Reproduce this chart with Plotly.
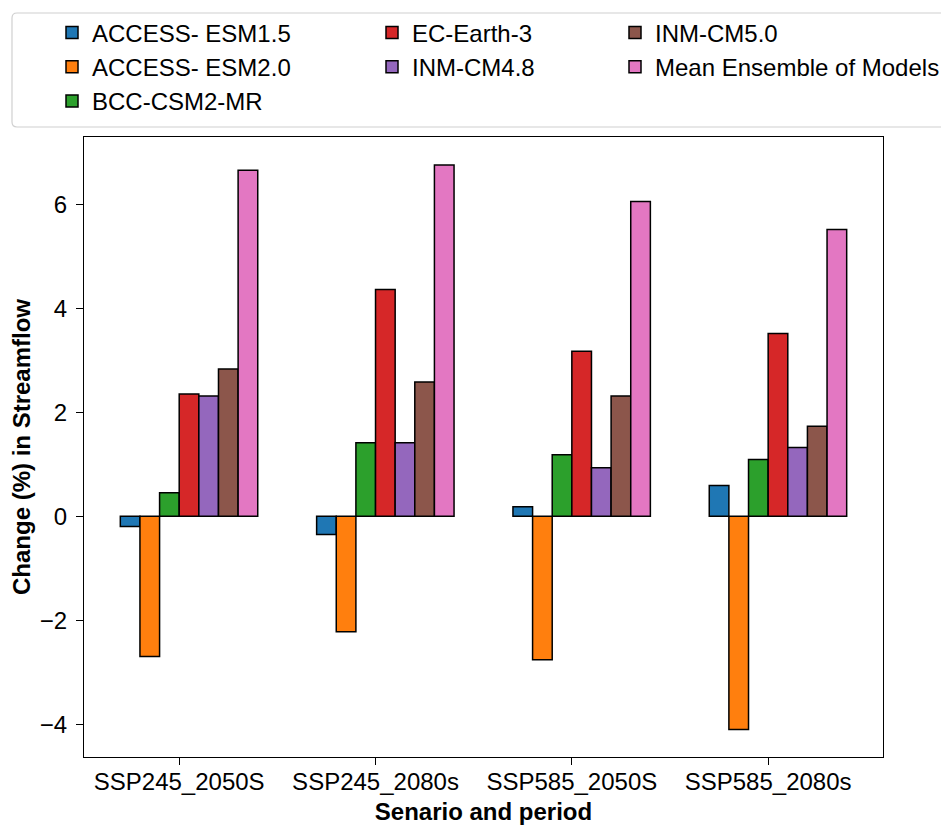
import plotly.graph_objects as go

categories = ["SSP245_2050S", "SSP245_2080s", "SSP585_2050S", "SSP585_2080s"]
models = ["ACCESS- ESM1.5", "ACCESS- ESM2.0", "BCC-CSM2-MR", "EC-Earth-3",
          "INM-CM4.8", "INM-CM5.0", "Mean Ensemble of Models"]

access_esm15 = [-0.20, -0.35, 0.18, 0.59]
access_esm20 = [-2.70, -2.22, -2.76, -4.10]
bcc_csm2_mr = [0.45, 1.41, 1.18, 1.09]
ec_earth3 = [2.35, 4.36, 3.17, 3.51]
inm_cm48 = [2.31, 1.41, 0.93, 1.32]
inm_cm50 = [2.83, 2.58, 2.31, 1.73]
mean_ensemble = [6.65, 6.75, 6.05, 5.51]

series = [access_esm15, access_esm20, bcc_csm2_mr, ec_earth3, inm_cm48, inm_cm50, mean_ensemble]
colors = ["#1f77b4", "#ff7f0e", "#2ca02c", "#d62728", "#9467bd", "#8c564b", "#e377c2"]
legend_ids = ["legend", "legend", "legend", "legend2", "legend2", "legend3", "legend3"]

FONT = "Liberation Sans, Arial, sans-serif"
bar_w = 0.1
x_idx = list(range(len(categories)))

fig = go.Figure()
for i, (name, vals, col, lg) in enumerate(zip(models, series, colors, legend_ids)):
    fig.add_trace(go.Bar(
        x=x_idx, y=vals, name=name,
        width=bar_w, offset=-0.3 + i * bar_w,
        marker=dict(color=col, line=dict(color="black", width=1.5)),
        legend=lg,
    ))

# page body has an 8px margin; target plot area in window pixels: x 84..883, y 137..757
OFF = 8
W, H = 949 - OFF, 825 - OFF
L, T = 84 - OFF, 137 - OFF
R, B = 949 - 883, 825 - 757
pw, ph = W - L - R, H - T - B

def px(xw):
    return (xw - OFF - L) / pw

def py(yw):
    return (H - B - (yw - OFF)) / ph

def rounded_frame(x0, y0, x1, y1, r):
    pts = [
        f"M {px(x0 + r)},{py(y0)}",
        f"L {px(x1 - r)},{py(y0)}",
        f"Q {px(x1)},{py(y0)} {px(x1)},{py(y0 + r)}",
        f"L {px(x1)},{py(y1 - r)}",
        f"Q {px(x1)},{py(y1)} {px(x1 - r)},{py(y1)}",
        f"L {px(x0 + r)},{py(y1)}",
        f"Q {px(x0)},{py(y1)} {px(x0)},{py(y1 - r)}",
        f"L {px(x0)},{py(y0 + r)}",
        f"Q {px(x0)},{py(y0)} {px(x0 + r)},{py(y0)}",
        "Z",
    ]
    return " ".join(pts)

leg_common = dict(
    bgcolor="rgba(0,0,0,0)", borderwidth=0,
    font=dict(family=FONT, size=24, color="black"),
    orientation="v", xanchor="left", yanchor="top",
    itemwidth=30, tracegroupgap=0,
)

fig.update_layout(
    width=W, height=H,
    margin=dict(l=L, r=R, t=T, b=B, autoexpand=False),
    paper_bgcolor="white", plot_bgcolor="white",
    barmode="overlay",
    font=dict(family=FONT, size=24, color="black"),
    legend=dict(x=px(52), y=py(10.5), **leg_common),
    legend2=dict(x=px(372), y=py(10.5), **leg_common),
    legend3=dict(x=px(615), y=py(10.5), **leg_common),
    xaxis=dict(
        range=[-0.485, 3.585],
        tickmode="array", tickvals=x_idx, ticktext=categories,
        ticks="outside", ticklen=7, tickwidth=1.3, tickcolor="black",
        ticklabelstandoff=-4,
        showline=True, linecolor="black", linewidth=1.3, mirror=True,
        showgrid=False, zeroline=False,
        tickfont=dict(family=FONT, size=24, color="black"),
        title=dict(text="<b>Senario and period</b>", standoff=12,
                   font=dict(family=FONT, size=24, color="black")),
    ),
    yaxis=dict(
        range=[-4.63, 7.29],
        tickvals=[-4, -2, 0, 2, 4, 6],
        ticks="outside", ticklen=7, tickwidth=1.3, tickcolor="black",
        ticklabelstandoff=4,
        showline=True, linecolor="black", linewidth=1.3, mirror=True,
        showgrid=False, zeroline=False,
        tickfont=dict(family=FONT, size=24, color="black"),
        title=dict(text="<b>Change (%) in Streamflow</b>", standoff=8,
                   font=dict(family=FONT, size=24, color="black")),
    ),
    shapes=[dict(
        type="path", xref="paper", yref="paper",
        path=rounded_frame(12, 13, 955, 127, 5),
        line=dict(color="#d0d0d0", width=1.2), fillcolor="rgba(0,0,0,0)",
        layer="below",
    )],
)

fig.write_html("out.html")
